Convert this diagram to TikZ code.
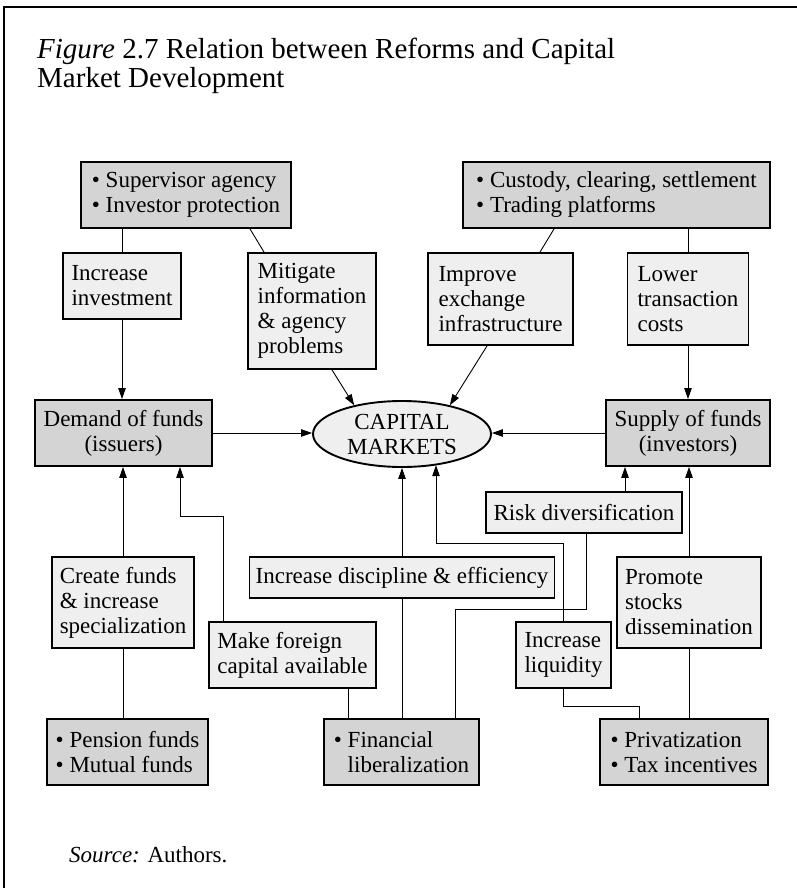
\documentclass[tikz,border=0pt]{standalone}
\usepackage{fontspec}
\setmainfont{Liberation Serif}
\usetikzlibrary{arrows.meta,shapes.geometric}
\definecolor{boxdark}{HTML}{D4D4D4}
\definecolor{boxlight}{HTML}{EFEFEF}
\begin{document}
\begin{tikzpicture}[x=1pt,y=-1pt,
  txt/.style={font=\fontsize{23}{25}\selectfont},
  basebox/.style={draw, line width=1.9pt, inner sep=0pt, align=left, txt},
  darkbox/.style={basebox, fill=boxdark},
  lightbox/.style={basebox, fill=boxlight},
  wh/.style 2 args={minimum width=#1pt, minimum height=#2pt},
  conn/.style={line width=0.9pt},
  arr/.style={conn, -{Triangle[length=11pt,width=7.5pt]}},
]
\useasboundingbox (0,0) rectangle (797,888);
% frame
\draw[line width=1.2pt] (4,888) -- (4,7) -- (797,7);
% title
\node[anchor=base west, inner sep=0pt, font=\fontsize{29}{30}\selectfont] (t1) at (37,59) {{\itshape Figure} 2.7 Relation between Reforms and Capital};
\node[anchor=base west, inner sep=0pt, font=\fontsize{29}{30}\selectfont] (t2) at (37,88) {Market Development};
% top row
\node[darkbox, wh={210}{66}] (sup) at (186,195) {\textbullet\ Supervisor agency\\\textbullet\ Investor protection};
\node[darkbox, wh={307}{66}] (cust) at (616.5,195) {\textbullet\ Custody, clearing, settlement\\\textbullet\ Trading platforms};
% second row
\node[lightbox, wh={118}{66}] (incinv) at (122,286) {Increase\\investment};
\node[lightbox, wh={128}{116}] (mitig) at (312,311) {Mitigate\\information\\\&\ agency\\problems};
\node[lightbox, wh={145}{92}] (improve) at (500.5,299) {Improve\\exchange\\infrastructure};
\node[lightbox, wh={121}{92}] (lower) at (688,299) {Lower\\transaction\\costs};
% middle row
\node[darkbox, wh={177}{66}, align=center] (dem) at (123.5,433) {Demand of funds\\(issuers)};
\node[draw, ellipse, line width=1.9pt, fill=boxlight, inner sep=0pt, minimum width=178pt, minimum height=66pt, align=center, txt] (cm) at (402,434) {CAPITAL\\MARKETS};
\node[darkbox, wh={164}{66}, align=center] (supf) at (688,433) {Supply of funds\\(investors)};
% lower middle
\node[lightbox, wh={196}{41}] (risk) at (584,512.5) {Risk diversification};
\node[lightbox, wh={142}{91}] (create) at (123,602.5) {Create funds\\\&\ increase\\specialization};
\node[lightbox, wh={305}{41}] (discip) at (402,577.5) {Increase discipline \&\ efficiency};
\node[lightbox, wh={144}{91}] (promote) at (689,602.5) {Promote\\stocks\\dissemination};
\node[lightbox, wh={167}{66}] (foreign) at (292.5,655) {Make foreign\\capital available};
\node[lightbox, wh={95}{66}] (liquid) at (563.5,655) {Increase\\liquidity};
% bottom row
\node[darkbox, wh={161}{66}] (pens) at (127.5,752) {\textbullet\ Pension funds\\\textbullet\ Mutual funds};
\node[darkbox, wh={155}{66}] (finlib) at (401.5,752) {\textbullet\ Financial\\\hphantom{\textbullet\ }liberalization};
\node[darkbox, wh={168}{66}] (priv) at (684,752) {\textbullet\ Privatization\\\textbullet\ Tax incentives};
% source
\node[anchor=base west, inner sep=0pt, txt] (src) at (69,862) {{\itshape Source:} Authors.};
% bend points
\coordinate (b1) at (180,516);
\coordinate (b2) at (436,543);
\coordinate (b3) at (455,609);
\coordinate (b4) at (639,706);
% top connectors
\draw[conn] (incinv.north) -- (incinv.north |- sup.south);
\draw[conn] ([xshift=64pt]sup.south) -- ([xshift=-48pt]mitig.north);
\draw[conn] ([xshift=-62.5pt]cust.south) -- ([xshift=39.5pt]improve.north);
\draw[conn] (lower.north) -- (lower.north |- cust.south);
% into demand / supply from above
\draw[arr] (incinv.south) -- (incinv.south |- dem.north);
\draw[arr] (lower.south) -- (lower.south |- supf.north);
% into capital markets
\draw[arr] ([xshift=20pt]mitig.south) -- (cm.149);
\draw[arr] ([xshift=-13.5pt]improve.south) -- (cm.31);
\draw[arr] (dem.east) -- (dem.east -| cm.west);
\draw[arr] (supf.west) -- (supf.west -| cm.east);
\draw[arr] (discip.north) -- (cm.south);
\draw[arr] (liquid.north) |- (b2) -- (b2 |- cm.-41.9);
% into demand from below
\draw[arr] (create.north) -- (create.north |- dem.south);
\draw[arr] ([xshift=-69.5pt]foreign.north) |- (b1) -- (b1 |- dem.south);
% into supply from below
\draw[arr] ([xshift=41pt]risk.north) -- ([xshift=41pt]risk.north |- supf.south);
\draw[arr] (promote.north) -- (promote.north |- supf.south);
% bottom connectors
\draw[conn] (create.south) -- (create.south |- pens.north);
\draw[conn] ([xshift=55.5pt]foreign.south) -- ([xshift=55.5pt]foreign.south |- finlib.north);
\draw[conn] (discip.south) -- (discip.south |- finlib.north);
\draw[conn] ([xshift=2pt]risk.south) |- (b3) -- (b3 |- finlib.north);
\draw[conn] (liquid.south) |- (b4) -- (b4 |- priv.north);
\draw[conn] (promote.south) -- (promote.south |- priv.north);
\end{tikzpicture}
\end{document}
